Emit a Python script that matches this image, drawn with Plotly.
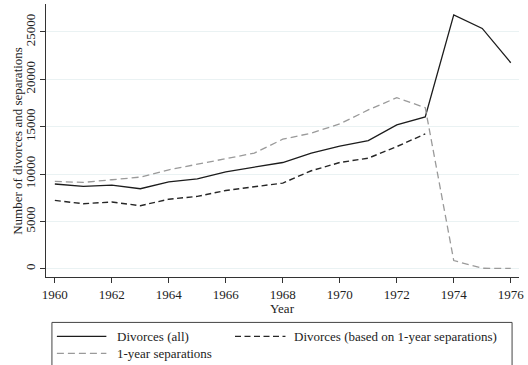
import plotly.graph_objects as go

# Annual counts, 1960-1976
years = list(range(1960, 1977))
divorces_all = [8950, 8700, 8840, 8450, 9180, 9500, 10240, 10700, 11220,
                12210, 12950, 13540, 15190, 16030, 26800, 25370, 21750]
years_based = list(range(1960, 1974))
divorces_based = [7220, 6870, 7050, 6660, 7350, 7640, 8270, 8630, 9050,
                  10350, 11220, 11680, 12900, 14240]
separations = [9220, 9120, 9400, 9680, 10450, 11050, 11580, 12210, 13680,
               14320, 15300, 16770, 18060, 17010, 870, 60, 40]

x_ticks = list(range(1960, 1977, 2))
y_ticks = [0, 5000, 10000, 15000, 20000, 25000]
y_tick_labels = [str(v) for v in y_ticks]

legend_labels = ["Divorces (all)", "Divorces (based on 1-year separations)",
                 "1-year separations"]

FONT = "Liberation Serif"
W, H = 528, 365
L, R, T, B = 46, 4, 4, 87.5
PW, PH = W - L - R, H - T - B

def px(x):
    return (x - L) / PW

def py(y):
    return (H - B - y) / PH

c_all = "#1c1c1c"
c_based = "#262626"
c_sep = "#9a9a9a"
dash_based = "6px,3.5px"
dash_sep = "7px,4px"

fig = go.Figure()
fig.add_trace(go.Scatter(x=years, y=divorces_all, mode="lines",
                         name=legend_labels[0],
                         line=dict(color=c_all, width=1.3)))
fig.add_trace(go.Scatter(x=years_based, y=divorces_based, mode="lines",
                         name=legend_labels[1],
                         line=dict(color=c_based, width=1.4, dash=dash_based)))
fig.add_trace(go.Scatter(x=years, y=separations, mode="lines",
                         name=legend_labels[2],
                         line=dict(color=c_sep, width=1.3, dash=dash_sep)))

# Boxed legend below the plot
shapes = [
    dict(type="rect", xref="paper", yref="paper",
         x0=px(52), x1=px(517), y0=py(323), y1=py(368),
         line=dict(color="#444444", width=1), fillcolor="rgba(0,0,0,0)"),
    dict(type="line", xref="paper", yref="paper",
         x0=px(57), x1=px(107), y0=py(337), y1=py(337),
         line=dict(color=c_all, width=1.3)),
    dict(type="line", xref="paper", yref="paper",
         x0=px(237), x1=px(288), y0=py(337), y1=py(337),
         line=dict(color=c_based, width=1.4, dash=dash_based)),
    dict(type="line", xref="paper", yref="paper",
         x0=px(57), x1=px(107), y0=py(354), y1=py(354),
         line=dict(color=c_sep, width=1.3, dash=dash_sep)),
]

txt = dict(family=FONT, size=13, color="#222222")
annotations = [
    dict(text=legend_labels[0], x=px(116), y=py(337), xref="paper", yref="paper",
         xanchor="left", yanchor="middle", showarrow=False, font=txt),
    dict(text=legend_labels[1], x=px(295), y=py(337), xref="paper", yref="paper",
         xanchor="left", yanchor="middle", showarrow=False, font=txt),
    dict(text=legend_labels[2], x=px(116), y=py(354), xref="paper", yref="paper",
         xanchor="left", yanchor="middle", showarrow=False, font=txt),
    dict(text="Year", x=0.5, y=py(309), xref="paper", yref="paper",
         xanchor="center", yanchor="middle", showarrow=False, font=txt),
    dict(text="Number of divorces and separations", x=px(17), y=0.5,
         xref="paper", yref="paper", xanchor="center", yanchor="middle",
         textangle=-90, showarrow=False, font=txt),
]

fig.update_layout(
    width=W, height=H,
    margin=dict(l=L, r=R, t=T, b=B),
    paper_bgcolor="white", plot_bgcolor="white",
    showlegend=False,
    font=dict(family=FONT, size=13, color="#222222"),
    shapes=shapes, annotations=annotations,
)
fig.update_xaxes(range=[1959.69, 1976.29], tickvals=x_ticks,
                 ticks="outside", ticklen=5, tickcolor="#333333",
                 showline=True, linecolor="#333333", linewidth=1,
                 showgrid=False, zeroline=False, ticklabeloverflow="allow",
                 tickfont=dict(family=FONT, size=13, color="#222222"))
fig.update_yaxes(range=[-864, 27950], tickvals=y_ticks, ticktext=y_tick_labels,
                 ticks="outside", ticklen=5, tickcolor="#333333",
                 showline=True, linecolor="#333333", linewidth=1,
                 showgrid=True, gridcolor="#eaf2f3", gridwidth=1,
                 zeroline=False, tickangle=-90,
                 tickfont=dict(family=FONT, size=13, color="#222222"))

fig.write_html("out.html")
